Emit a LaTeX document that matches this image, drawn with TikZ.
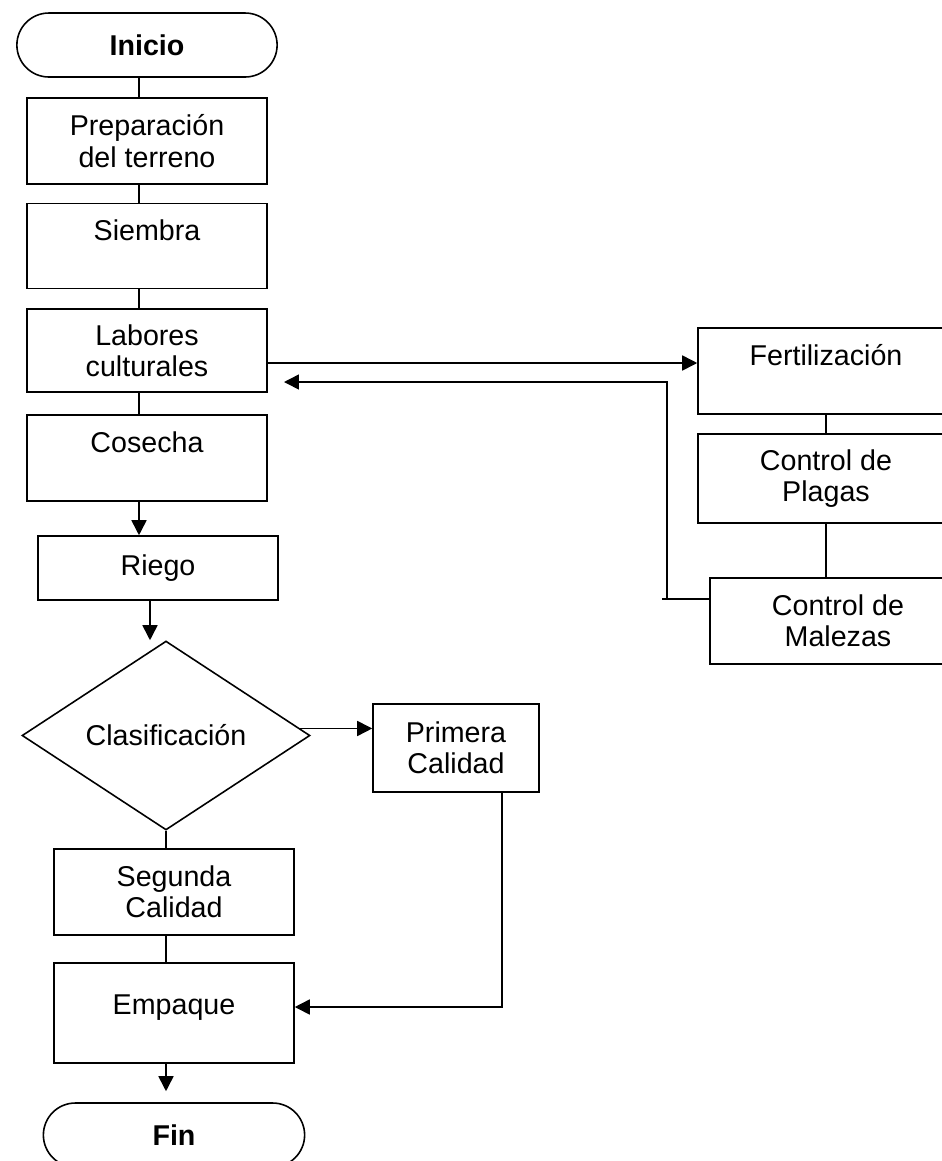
\documentclass[tikz,border=0pt]{standalone}
\usepackage{fontspec}
\setmainfont{Liberation Sans}
\usepackage{tikz}
\usetikzlibrary{shapes.geometric,shapes.misc,arrows.meta,positioning}
\tikzstyle{term} = [rounded rectangle, draw, minimum width=5.44cm, minimum height=1.28cm, font=\fontsize{16.3}{17.8}\selectfont\bfseries]
\tikzstyle{proc} = [rectangle, draw, minimum width=4.8cm, align=center, font=\fontsize{16.3}{17.8}\selectfont]
\tikzstyle{dec} = [diamond, draw, shape aspect=1.52, minimum width=5.76cm, minimum height=3.78cm, inner sep=0pt, font=\fontsize{16.3}{17.8}\selectfont]
\tikzstyle{arr} = [-{Triangle[length=0.3cm,width=0.3cm]}]

\begin{document}
\begin{tikzpicture}[x=0.02cm, y=-0.02cm, line width=0.9pt]
\useasboundingbox (0,0) rectangle (942,1161);
\clip (0,0) rectangle (942,1161);
\node (ini) [term] at (147,45) {Inicio};
\node (prep) [proc, minimum height=1.72cm] at (147,141) {Preparación\\del terreno};
\node (siem) [proc, minimum height=1.7cm] at (147,246) {Siembra\\~};
\node (lab) [proc, minimum height=1.66cm] at (147,350.5) {Labores\\culturales};
\node (cos) [proc, minimum height=1.72cm] at (147,458) {Cosecha\\~};
\node (rie) [proc, minimum height=1.28cm] at (158,568) {Riego};
\node (cla) [dec] at (166,735.5) {Clasificación};
\node (pri) [proc, minimum width=3.32cm, minimum height=1.76cm] at (456,748) {Primera\\Calidad};
\node (seg) [proc, minimum height=1.72cm] at (174,892) {Segunda\\Calidad};
\node (emp) [proc, minimum height=2cm, text height=10pt, text depth=8pt] at (174,1013) {Empaque};
\node (fin) [term, minimum width=5.46cm] at (174,1135) {Fin};
\node (fer) [proc, minimum width=5.12cm, minimum height=1.72cm] at (826,371) {Fertilización\\~};
\node (pla) [proc, minimum width=5.12cm, minimum height=1.78cm] at (826,478.5) {Control de\\Plagas};
\node (mal) [proc, minimum width=5.12cm, minimum height=1.72cm] at (838,621) {Control de\\Malezas};

\coordinate (sp) at (139,0);
\coordinate (rs) at (150,0);
\coordinate (ly) at (0,363);
\coordinate (pv) at (502,1007);
\coordinate (rt) at (667,382);
\coordinate (li) at (284,382);
\coordinate (my) at (662,599);

\draw (ini.south -| sp) -- (prep.north -| sp);
\draw (prep.south -| sp) -- (siem.north -| sp);
\draw (siem.south -| sp) -- (lab.north -| sp);
\draw (lab.south -| sp) -- (cos.north -| sp);
\draw[arr] (cos.south -| sp) -- (rie.north -| sp);
\draw[arr] (rie.south -| rs) -- (cla.north -| rs);
\draw[arr] (cla.3.7) -- (cla.3.7 -| pri.west);
\draw (cla.south) -- (cla.south |- seg.north);
\draw (seg.south -| cla.south) -- (emp.north -| cla.south);
\draw[arr, shorten >=0.22cm] (emp.south -| cla.south) -- (fin.north -| cla.south);
\draw[arr] (pri.south -| pv) |- (emp.east |- pv);

\draw[arr] (lab.east |- ly) -- (fer.west |- ly);
\draw (fer.south) -- (pla.north);
\draw (pla.south) -- (pla.south |- mal.north);
\draw (mal.west |- my) -- (my);
\draw[arr] (rt |- my) |- (li);
\end{tikzpicture}
\end{document}
